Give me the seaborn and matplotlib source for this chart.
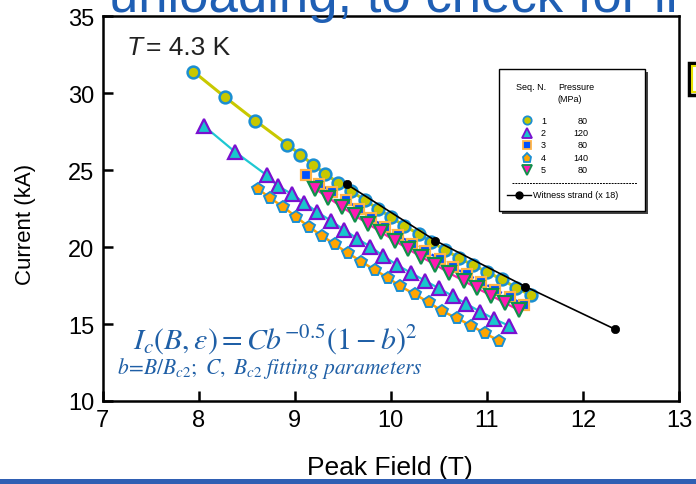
import matplotlib
matplotlib.use("Agg")
import matplotlib.pyplot as plt
import seaborn as sns
from matplotlib.patches import Rectangle

# ---------------- data ----------------
b1 = [7.947, 8.270, 8.592, 8.925, 9.060, 9.190, 9.320, 9.456, 9.591, 9.732, 9.872,
      10.007, 10.143, 10.293, 10.424, 10.569, 10.710, 10.861, 11.006, 11.157, 11.303, 11.459]
i1 = [31.39, 29.76, 28.20, 26.65, 26.00, 25.35, 24.76, 24.14, 23.62, 23.03, 22.46,
      21.92, 21.36, 20.84, 20.32, 19.80, 19.28, 18.81, 18.37, 17.89, 17.36, 16.87]
b2 = [8.054, 8.377, 8.707, 8.824, 8.969, 9.102, 9.232, 9.373, 9.511, 9.650, 9.789,
      9.924, 10.065, 10.215, 10.354, 10.500, 10.645, 10.788, 10.933, 11.079, 11.228]
i2 = [27.87, 26.19, 24.67, 23.96, 23.45, 22.87, 22.28, 21.72, 21.13, 20.55, 20.02,
      19.41, 18.84, 18.30, 17.82, 17.32, 16.82, 16.30, 15.80, 15.32, 14.89]
b3 = [9.118, 9.255, 9.391, 9.534, 9.674, 9.799, 9.938, 10.075, 10.223, 10.361, 10.512,
      10.649, 10.795, 10.942, 11.089, 11.237, 11.384]
i3 = [24.68, 24.12, 23.55, 23.03, 22.47, 21.87, 21.30, 20.78, 20.21, 19.72, 19.23,
      18.68, 18.22, 17.73, 17.24, 16.75, 16.26]
b4 = [8.616, 8.748, 8.880, 9.016, 9.146, 9.281, 9.417, 9.553, 9.695, 9.832, 9.971,
      10.101, 10.250, 10.395, 10.535, 10.691, 10.840, 10.978, 11.131]
i4 = [23.79, 23.16, 22.61, 21.95, 21.32, 20.74, 20.17, 19.61, 19.05, 18.52, 18.00,
      17.45, 16.93, 16.41, 15.84, 15.37, 14.89, 14.39, 13.91]
b5 = [9.211, 9.352, 9.490, 9.625, 9.765, 9.903, 10.042, 10.181, 10.319, 10.465, 10.611,
      10.760, 10.899, 11.045, 11.193, 11.339]
i5 = [23.79, 23.19, 22.61, 22.05, 21.50, 20.95, 20.41, 19.87, 19.35, 18.85, 18.30,
      17.80, 17.32, 16.85, 16.35, 15.89]
bw = [9.546, 10.465, 11.402, 12.331]
iw = [24.06, 20.41, 17.43, 14.67]

seq_labels = ["1", "2", "3", "4", "5"]
pressures = ["80", "120", "80", "140", "80"]
xticks = [7, 8, 9, 10, 11, 12, 13]
yticks = [10, 15, 20, 25, 30, 35]

# ---------------- styles ----------------
styles = [
    dict(m="o", ms=8.5, fc="#c8c800", ec="#1b8fd2", lc="#c8c800", ls="-", lw=2.2, mew=1.8),
    dict(m="^", ms=10, fc="#19c6cc", ec="#7a10d0", lc="#1ec8d2", ls="-", lw=1.6, mew=1.6),
    dict(m="s", ms=7.5, fc="#0050ff", ec="#ffb347", lc="#1040ff", ls=(0, (2.5, 2)), lw=1.7, mew=1.6),
    dict(m="p", ms=8.5, fc="#ffa500", ec="#1b8fd2", lc="#ffa500", ls="-", lw=1.8, mew=1.4),
    dict(m="v", ms=10, fc="#ff1ab4", ec="#10904a", lc="#ff20b0", ls="-", lw=1.6, mew=1.6),
]
series = [(b1, i1), (b2, i2), (b3, i3), (b4, i4), (b5, i5)]

sans = ["Liberation Sans", "DejaVu Sans"]
plt.rcParams["font.family"] = sans
plt.rcParams["mathtext.fontset"] = "stix"

W, H = 696, 485
fig = plt.figure(figsize=(W / 100, H / 100), dpi=100)
fig.patch.set_facecolor("white")
ax = fig.add_axes([102.5 / W, 1 - 402 / H, (679 - 102.5) / W, (402 - 17) / H])

for (bx, iy), st in zip(series, styles):
    sns.lineplot(x=bx, y=iy, ax=ax, sort=False, estimator=None, legend=False,
                 color=st["lc"], linewidth=st["lw"], linestyle=st["ls"],
                 marker=st["m"], markersize=st["ms"], markerfacecolor=st["fc"],
                 markeredgecolor=st["ec"], markeredgewidth=st["mew"])
sns.lineplot(x=bw, y=iw, ax=ax, sort=False, estimator=None, legend=False,
             color="black", linewidth=1.2, marker="o", markersize=6,
             markerfacecolor="black", markeredgecolor="black", markeredgewidth=0.5)

ax.set_xlim(7, 13)
ax.set_ylim(10, 35)
ax.set_xticks(xticks)
ax.set_yticks(yticks)
ax.set_xticklabels([str(t) for t in xticks], fontsize=17)
ax.set_yticklabels([str(t) for t in yticks], fontsize=17)
ax.tick_params(direction="in", length=7, width=1.8, pad=6, colors="black",
               top=False, right=False)
for sp in ax.spines.values():
    sp.set_visible(True)
    sp.set_linewidth(1.8)
    sp.set_color("black")
ax.set_facecolor("white")
ax.grid(False)

ax.set_xlabel("Peak Field (T)", fontsize=19)
ax.xaxis.set_label_coords(0.499, -0.14)
ax.set_ylabel("Current (kA)", fontsize=16)
ax.yaxis.set_label_coords(-0.115, 0.46)

# ---------------- overlay (pixel coordinates) ----------------
lax = fig.add_axes([0, 0, 1, 1], zorder=10)
lax.set_xlim(0, W)
lax.set_ylim(H, 0)
lax.axis("off")
lax.patch.set_alpha(0)

# slide title fragment (cut off at the top, as in the slide) and decorations
lax.text(109, 12, "unloading, to check for ir", fontsize=38, color="#1f5fb4",
         va="baseline", ha="left", clip_on=False)
lax.add_patch(Rectangle((0, 480), W, 6, fc="#2f5fb3", ec="none"))
lax.add_patch(Rectangle((689, 64), 14, 32, fc="white", ec="black", lw=2.5))
lax.add_patch(Rectangle((692, 67), 10, 26, fc="white", ec="#e8e000", lw=1.5))

# temperature
lax.text(127, 55, "T", fontsize=19, style="italic", color="#222222",
         va="baseline", ha="left")
lax.text(146, 55, "= 4.3 K", fontsize=19, color="#222222",
         va="baseline", ha="left")

# formula
fcol = "#1f5fa6"
lax.text(133, 349, r"$I_c(B,\varepsilon) = Cb^{-0.5}(1-b)^2$", fontsize=21.5,
         color=fcol, va="baseline", ha="left")
lax.text(117, 374, r"$b\!=\!B/B_{c2};\ C,\ B_{c2}\ fitting\ parameters$", fontsize=15.5,
         color=fcol, va="baseline", ha="left")

# legend box
lax.add_patch(Rectangle((501.5, 72.5), 146, 142, fc="#444444", ec="none"))
lax.add_patch(Rectangle((499, 70), 146, 142, fc="white", ec="black", lw=1.0))
lf = dict(fontsize=6.5, color="black")
lax.text(531, 88, "Seq. N.", ha="center", va="center", **lf)
lax.text(558, 88, "Pressure", ha="left", va="center", **lf)
lax.text(558, 99, "(MPa)", ha="left", va="center", **lf)
rows_y = [121, 133.5, 146, 158.5, 171]
leg_ms = [6, 7.5, 5.5, 6.5, 7.5]
for st, lab, pr, ry, ms in zip(styles, seq_labels, pressures, rows_y, leg_ms):
    lax.plot([527], [ry], marker=st["m"], ms=ms, mfc=st["fc"], mec=st["ec"],
             mew=1.3, ls="none")
    lax.text(541, ry, lab, ha="left", va="center", **lf)
    lax.text(588, ry, pr, ha="right", va="center", **lf)
lax.plot([512, 637], [184, 184], color="black", lw=0.7, ls=(0, (2, 1)))
lax.plot([507, 531], [196, 196], color="black", lw=1.0)
lax.plot([519], [196], marker="o", ms=5, color="black", ls="none")
lax.text(533, 196, "Witness strand (x 18)", ha="left", va="center", **lf)

fig.savefig("out.png", dpi=100, facecolor="white")
